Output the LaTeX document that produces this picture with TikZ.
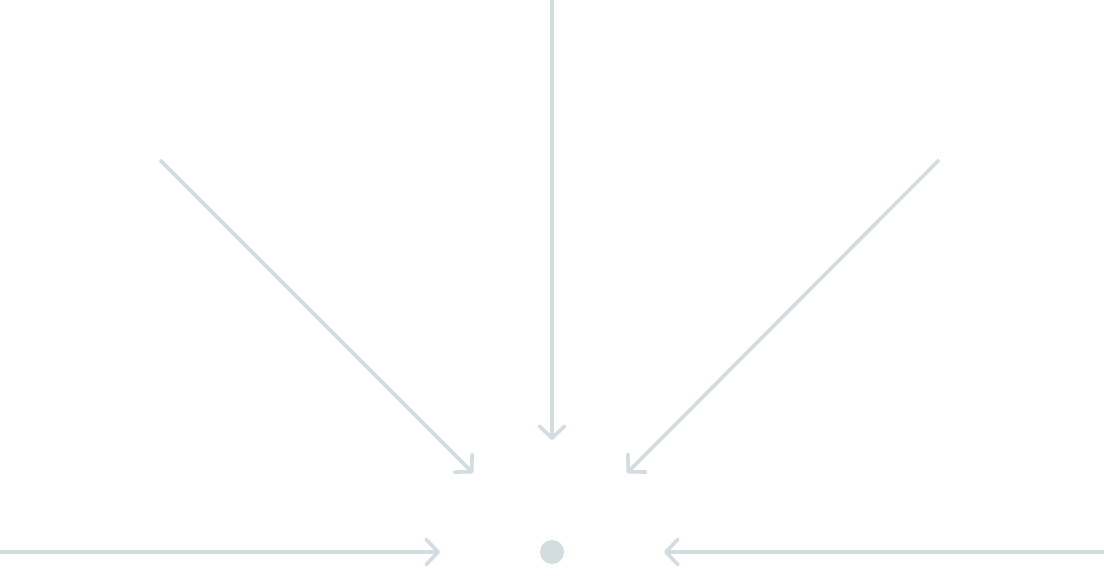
\documentclass[tikz,border=0pt]{standalone}
\usepackage{xcolor}
\usepackage{tikz}
\usetikzlibrary{positioning, arrows.meta}

\definecolor{raygray}{HTML}{D3DCDF}

\begin{document}
\begin{tikzpicture}[
    x=1pt, y=-1pt,
    % Ray and focus styles
    ray/.style={
        draw=raygray,
        line width=3.6pt,
        -{Straight Barb[length=12pt, width=25pt, line cap=round, line join=round]}
    },
    focus/.style={
        circle,
        fill=raygray,
        minimum size=24pt,
        inner sep=0pt
    }
]
\useasboundingbox (0,0) rectangle (1104,576);

% Central point
\node[focus] (center) at (552,552) {};

% Start points of the rays
\coordinate (topstart) at (552,0);
\coordinate (leftstart) at (160,160);
\coordinate (rightstart) at (939,160);
\coordinate (westart) at (0,552);
\coordinate (eastart) at (1104,552);

% End points near the centre
\coordinate (topend) at (552,440);
\coordinate (leftend) at (473,473);
\coordinate (rightend) at (627,473);
\coordinate (westend) at (440,552);
\coordinate (eastend) at (664,552);

% Rays
\draw[ray] (topstart) -- (topend);
\draw[ray] (leftstart) -- (leftend);
\draw[ray] (rightstart) -- (rightend);
\draw[ray] (westart) -- (westend);
\draw[ray] (eastart) -- (eastend);
\end{tikzpicture}
\end{document}
